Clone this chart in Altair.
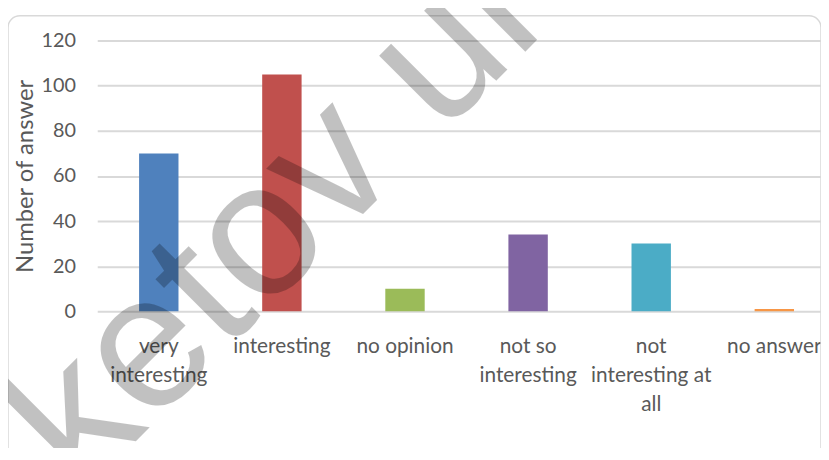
import json
import altair as alt
import pandas as pd

# ---- data ----
CATEGORIES = ["very interesting", "interesting", "no opinion",
              "not so interesting", "not interesting at all", "no answer"]
VALUES = [70, 105, 10, 34, 30, 1]
COLORS = ["#4F81BD", "#C0504D", "#9BBB59", "#8064A2", "#4BACC6", "#F79646"]
LABEL_LINES = [["very", "interesting"], ["interesting"], ["no  opinion"],
               ["not so", "interesting"], ["not", "interesting at", "all"],
               ["no  answer"]]
Y_TICKS = [0, 20, 40, 60, 80, 100, 120]
Y_TITLE = "Number of answer"
WATERMARK = "ketov ul"

df = pd.DataFrame({"category": CATEGORIES, "value": VALUES})

label_expr = "".join(
    f"datum.value == {json.dumps(c)} ? {json.dumps(l)} : "
    for c, l in zip(CATEGORIES, LABEL_LINES)
) + "datum.value"

TXT = "#595959"
FONT = "Lato"

frame = alt.Chart(alt.Data(values=[{"f": 1}])).mark_rect(
    fill="white", fillOpacity=0, stroke="#d9d9d9", strokeWidth=1.5, cornerRadius=12
).encode(
    x=alt.value(-87), x2=alt.value(733), y=alt.value(-25), y2=alt.value(445)
)

bars = alt.Chart(df).mark_bar().encode(
    x=alt.X("category:N", sort=CATEGORIES,
            scale=alt.Scale(range=[3, 748], paddingInner=0.68, paddingOuter=0.34),
            axis=alt.Axis(title=None, labelAngle=0, domain=False, ticks=False,
                          labelExpr=label_expr, labelFont=FONT, labelFontSize=21,
                          labelColor=TXT, labelPadding=25, labelLineHeight=29,
                          labelLimit=300, labelBaseline="top", grid=False)),
    y=alt.Y("value:Q", scale=alt.Scale(domain=[0, 120], nice=False),
            axis=alt.Axis(values=Y_TICKS, title=Y_TITLE, domain=False, ticks=False,
                          labelFont=FONT, labelFontSize=20, labelColor=TXT,
                          labelPadding=19, titleFont=FONT, titleFontSize=24,
                          titleColor=TXT, titleFontWeight="normal", titlePadding=3,
                          gridColor="#d9d9d9", gridWidth=2)),
    color=alt.Color("category:N", sort=CATEGORIES,
                    scale=alt.Scale(domain=CATEGORIES, range=COLORS), legend=None),
)

mark = alt.Chart(alt.Data(values=[{"w": WATERMARK}])).mark_text(
    angle=315, fontSize=192, font="Liberation Sans", fontWeight="normal",
    color="black", opacity=0.24, align="left", baseline="alphabetic"
).encode(text="w:N", x=alt.value(-12), y=alt.value(458))

chart = alt.layer(frame, bars, mark).properties(
    width=733, height=273,
    autosize=alt.AutoSizeParams(type="none"),
    padding={"left": 87, "top": 31, "right": 0, "bottom": 136},
).configure_view(stroke=None)

chart.save("out.html", embed_options={"renderer": "svg", "actions": False})
